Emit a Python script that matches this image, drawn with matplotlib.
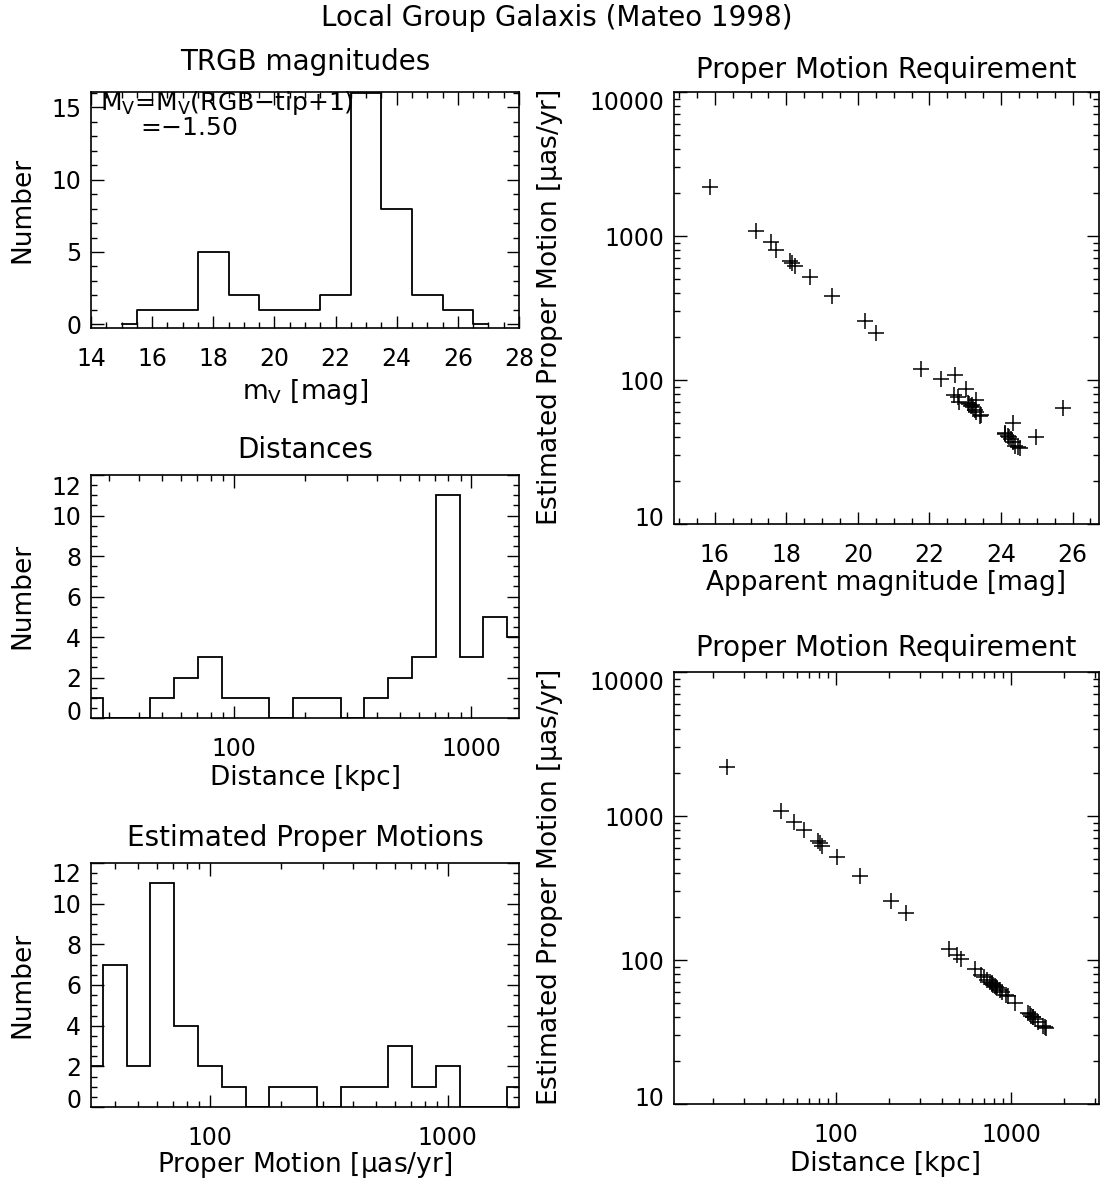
import numpy as np
import matplotlib
matplotlib.use('Agg')
import matplotlib.pyplot as plt
from matplotlib.ticker import MultipleLocator, LogLocator, NullFormatter
from matplotlib.transforms import ScaledTranslation

plt.rcParams['font.family'] = 'DejaVu Sans'
plt.rcParams['font.size'] = 17
plt.rcParams['mathtext.default'] = 'regular'

W, H = 1113, 1186

# histograma TRGB (centros em mag, contagens)
trgb_centros = [15, 16, 17, 18, 19, 20, 21, 22, 23, 24, 25, 26, 27]
trgb_n = [0, 1, 1, 5, 2, 1, 1, 2, 16, 8, 2, 1, 0]

# histograma distancias (centros em log10 kpc)
dist_log = [1.4, 1.5, 1.6, 1.7, 1.8, 1.9, 2.0, 2.1, 2.2, 2.3,
            2.4, 2.5, 2.6, 2.7, 2.8, 2.9, 3.0, 3.1, 3.2]
dist_n = [1, 0, 0, 1, 2, 3, 1, 1, 0, 1, 1, 0, 1, 2, 3, 11, 3, 5, 4]

# histograma movimentos proprios (centros em log10 muas/yr)
pm_log = [1.5, 1.6, 1.7, 1.8, 1.9, 2.0, 2.1, 2.2, 2.3, 2.4,
          2.5, 2.6, 2.7, 2.8, 2.9, 3.0, 3.1, 3.2, 3.3]
pm_n = [2, 7, 2, 11, 4, 2, 1, 0, 1, 1, 0, 1, 1, 3, 1, 2, 0, 0, 1]

# galaxias: magnitude aparente, distancia [kpc], movimento proprio [muas/yr]
mag = [15.86, 17.14, 17.56, 17.70, 18.09, 18.17, 18.23, 18.65, 19.29, 20.19,
       20.52, 21.77, 22.72, 22.33, 23.03, 22.70, 22.80, 23.31, 22.84, 23.08,
       23.12, 23.20, 23.15, 23.21, 25.74, 23.26, 23.30, 23.45, 23.40, 24.33,
       24.10, 24.12, 24.19, 24.98, 24.22, 24.27, 24.33, 24.40, 24.47, 24.52]
dist = [24, 49, 58, 66, 79, 81, 84, 101, 137, 205,
        250, 440, 490, 515, 620, 670, 700, 725, 755, 770,
        780, 790, 805, 815, 830, 855, 880, 930, 950, 1045,
        1240, 1270, 1300, 1320, 1330, 1360, 1420, 1510, 1560, 1580]
pm = [2198, 1088, 914, 800, 674, 646, 619, 521, 383, 258,
      211, 120, 109, 102, 87, 79, 76, 73, 70, 69,
      68, 67, 66, 65, 64, 62, 60, 57, 56, 50,
      43, 42, 41, 40, 40, 39, 37, 35, 34, 33.6]

fig = plt.figure(figsize=(W/100, H/100), dpi=100)

TIT = 20   # titulos
ROT = 19   # rotulos dos eixos


def caixa(l, r, t, b):
    return fig.add_axes([l/W, 1-b/H, (r-l)/W, (b-t)/H])


def texto(x, y, s, **kw):
    kw.setdefault('ha', 'center')
    kw.setdefault('va', 'center')
    fig.text(x/W, 1-y/H, s, **kw)


def estilo(ax):
    for sp in ax.spines.values():
        sp.set_linewidth(1.2)
    ax.tick_params(which='both', direction='in', top=True, right=True, width=1)
    ax.tick_params(which='major', length=9)
    ax.tick_params(which='minor', length=4.5)
    ax.tick_params(axis='x', which='major', pad=14)
    ax.tick_params(axis='y', which='major', pad=7)


def desloca(lbl, dy):
    lbl.set_transform(lbl.get_transform() + ScaledTranslation(0, dy/100, fig.dpi_scale_trans))


def hist_log(ax, centros, contagens):
    c = np.array(centros)
    bordas = 10**np.concatenate([[c[0]], (c[:-1]+c[1:])/2, [c[-1]]])
    ax.stairs(contagens, bordas, baseline=None, color='k', lw=1.3)


def eixo_log_x(ax, lo, hi):
    ax.set_xscale('log')
    ax.set_xlim(lo, hi)
    ax.set_xticks([100, 1000], ['100', '1000'])
    ax.xaxis.set_minor_locator(LogLocator(base=10, subs=np.arange(2, 10)))
    ax.xaxis.set_minor_formatter(NullFormatter())


# --- TRGB
ax1 = caixa(91, 519, 92, 328)
ax1.step(trgb_centros, trgb_n, where='mid', color='k', lw=1.3)
ax1.set_xlim(14, 28)
ax1.set_ylim(-0.25, 16.05)
ax1.set_xticks(range(14, 29, 2))
ax1.set_yticks([0, 5, 10, 15])
ax1.xaxis.set_minor_locator(MultipleLocator(0.5))
ax1.yaxis.set_minor_locator(MultipleLocator(1))
estilo(ax1)

# --- distancias
ax2 = caixa(91, 519, 475, 718)
hist_log(ax2, dist_log, dist_n)
eixo_log_x(ax2, 10**1.4, 10**3.2)
ax2.set_ylim(0, 12)
ax2.set_yticks(range(0, 13, 2))
ax2.yaxis.set_minor_locator(MultipleLocator(0.5))
estilo(ax2)

# --- movimentos proprios
ax3 = caixa(91, 519, 863, 1107)
hist_log(ax3, pm_log, pm_n)
eixo_log_x(ax3, 10**1.5, 10**3.3)
ax3.set_ylim(0, 12)
ax3.set_yticks(range(0, 13, 2))
ax3.yaxis.set_minor_locator(MultipleLocator(0.5))
estilo(ax3)

for ax in (ax2, ax3):
    lbls = ax.get_yticklabels()
    desloca(lbls[0], 8)
    desloca(lbls[-1], -10)


def eixo_pm_y(ax):
    ax.set_yscale('log')
    ax.set_ylim(10, 10000)
    ax.set_yticks([10, 100, 1000, 10000], ['10', '100', '1000', '10000'])
    ax.yaxis.set_minor_locator(LogLocator(base=10, subs=np.arange(2, 10)))
    ax.yaxis.set_minor_formatter(NullFormatter())


# --- pm x magnitude
ax4 = caixa(674, 1099, 92, 524)
ax4.plot(mag, pm, '+', color='k', ms=11, mew=1.1)
ax4.set_xlim(14.86, 26.74)
ax4.set_xticks(range(16, 27, 2))
ax4.xaxis.set_minor_locator(MultipleLocator(0.5))
eixo_pm_y(ax4)
estilo(ax4)

# --- pm x distancia
ax5 = caixa(674, 1099, 672, 1104)
ax5.plot(dist, pm, '+', color='k', ms=11, mew=1.1)
eixo_log_x(ax5, 12, 3150)
eixo_pm_y(ax5)
estilo(ax5)

for ax in (ax4, ax5):
    lbls = ax.get_yticklabels()
    desloca(lbls[0], 7)
    desloca(lbls[-1], -8)

# textos
texto(557, 18, 'Local Group Galaxis (Mateo 1998)', fontsize=TIT)
texto(305, 62, 'TRGB magnitudes', fontsize=TIT)
texto(305, 450, 'Distances', fontsize=TIT)
texto(305, 838, 'Estimated Proper Motions', fontsize=TIT)
texto(886, 70, 'Proper Motion Requirement', fontsize=TIT)
texto(886, 648, 'Proper Motion Requirement', fontsize=TIT)

texto(305, 392, r'm$_V$ [mag]', fontsize=ROT)
texto(305, 778, 'Distance [kpc]', fontsize=ROT)
texto(305, 1165, r'Proper Motion [$\mu$as/yr]', fontsize=ROT)
texto(886, 583, 'Apparent magnitude [mag]', fontsize=ROT)
texto(886, 1164, 'Distance [kpc]', fontsize=ROT)

for y in (210, 596, 985):
    texto(22, y, 'Number', rotation=90, fontsize=ROT)
texto(550, 308, r'Estimated Proper Motion [$\mu$as/yr]', rotation=90, fontsize=ROT)
texto(550, 888, r'Estimated Proper Motion [$\mu$as/yr]', rotation=90, fontsize=ROT)

texto(100, 103, r'M$_V$=M$_V$(RGB$-$tip+1)', ha='left', fontsize=18)
texto(140, 128, r'=$-$1.50', ha='left', fontsize=18)

fig.savefig('out.png', dpi=100)
